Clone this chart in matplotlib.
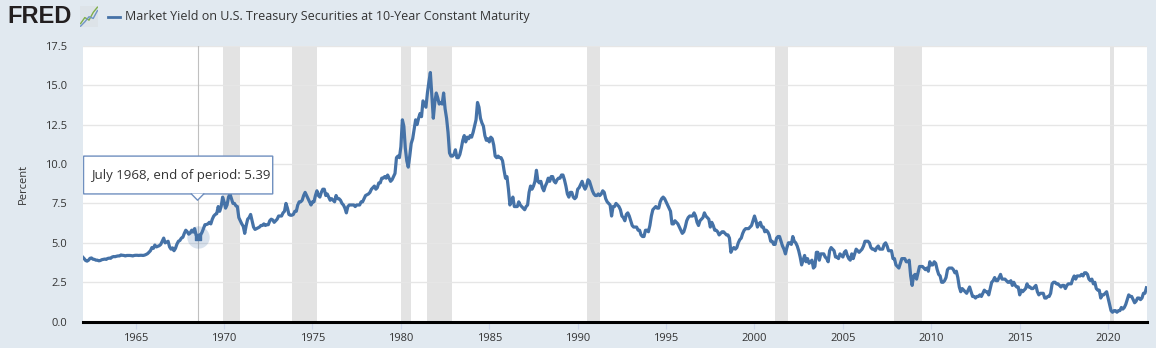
import matplotlib.pyplot as plt
import numpy as np
from matplotlib.patches import FancyBboxPatch

# monthly 10-year treasury yield (end of period), Jan 1962 .. Mar 2022
start_year = 1962
yield_pct = [
    4.10, 4.00, 3.88, 3.84, 3.90, 4.02, 4.04, 3.96, 3.95, 3.90, 3.90, 3.86,
    3.88, 3.93, 3.95, 3.97, 3.95, 4.01, 4.03, 4.02, 4.10, 4.13, 4.12, 4.15,
    4.17, 4.17, 4.23, 4.21, 4.20, 4.17, 4.20, 4.20, 4.20, 4.19, 4.17, 4.20,
    4.21, 4.21, 4.20, 4.21, 4.21, 4.20, 4.22, 4.26, 4.31, 4.40, 4.50, 4.70,
    4.65, 4.86, 4.74, 4.78, 4.82, 4.90, 5.10, 5.30, 5.00, 5.05, 5.10, 4.74,
    4.60, 4.68, 4.50, 4.65, 4.92, 5.10, 5.15, 5.30, 5.35, 5.60, 5.80, 5.70,
    5.55, 5.62, 5.80, 5.68, 5.90, 5.50, 5.39, 5.48, 5.50, 5.66, 5.90, 6.15,
    6.16, 6.20, 6.30, 6.20, 6.50, 6.70, 6.80, 6.85, 7.30, 7.00, 7.30, 7.90,
    7.60, 7.20, 7.40, 7.90, 8.10, 7.80, 7.50, 7.50, 7.35, 7.30, 6.60, 6.40,
    6.20, 6.05, 5.60, 6.10, 6.50, 6.60, 6.80, 6.40, 6.00, 5.85, 5.90, 5.95,
    6.00, 6.10, 6.10, 6.20, 6.10, 6.15, 6.15, 6.40, 6.50, 6.45, 6.30, 6.40,
    6.50, 6.70, 6.70, 6.70, 6.90, 7.00, 7.50, 7.20, 6.80, 6.75, 6.75, 6.80,
    7.00, 7.00, 7.40, 7.60, 7.60, 7.70, 8.00, 8.20, 8.00, 7.80, 7.60, 7.40,
    7.60, 7.60, 8.00, 8.30, 8.00, 7.90, 8.20, 8.40, 8.40, 8.00, 8.10, 7.90,
    7.70, 7.80, 7.70, 7.60, 8.00, 7.80, 7.80, 7.70, 7.50, 7.40, 7.20, 6.90,
    7.30, 7.40, 7.40, 7.40, 7.40, 7.30, 7.40, 7.40, 7.40, 7.60, 7.60, 7.80,
    8.00, 8.05, 8.10, 8.20, 8.40, 8.50, 8.60, 8.40, 8.50, 8.80, 8.80, 9.10,
    9.10, 9.20, 9.10, 9.30, 9.10, 8.90, 9.00, 9.20, 9.40, 10.40, 10.50, 10.40,
    11.10, 12.80, 12.40, 11.00, 10.20, 9.80, 10.50, 11.30, 11.60, 12.20, 12.80, 12.50,
    12.90, 13.20, 13.00, 14.00, 13.80, 13.60, 14.50, 15.20, 15.80, 14.40, 12.90, 13.90,
    14.50, 14.20, 13.80, 13.90, 13.80, 14.50, 13.50, 12.90, 12.00, 10.70, 10.50, 10.50,
    10.60, 10.90, 10.40, 10.40, 10.60, 11.00, 11.50, 11.80, 11.40, 11.70, 11.60, 11.80,
    11.70, 12.00, 12.40, 12.80, 13.90, 13.60, 12.90, 12.60, 12.40, 11.80, 11.50, 11.60,
    11.40, 11.70, 11.60, 11.20, 10.50, 10.40, 10.50, 10.40, 10.40, 10.20, 9.60, 9.10,
    9.20, 8.40, 7.40, 7.60, 7.90, 7.30, 7.30, 7.30, 7.60, 7.40, 7.30, 7.20,
    7.10, 7.30, 7.40, 8.20, 8.60, 8.40, 8.60, 8.90, 9.60, 8.90, 8.80, 8.90,
    8.50, 8.30, 8.60, 8.80, 9.10, 8.90, 9.20, 9.20, 8.90, 8.80, 9.00, 9.10,
    9.10, 9.30, 9.30, 9.00, 8.60, 8.10, 7.90, 8.20, 8.20, 7.90, 7.80, 7.90,
    8.40, 8.50, 8.70, 8.90, 8.60, 8.40, 8.60, 9.00, 8.90, 8.60, 8.30, 8.10,
    8.00, 8.00, 8.10, 8.00, 8.10, 8.30, 8.20, 7.80, 7.60, 7.50, 7.40, 6.70,
    7.30, 7.30, 7.50, 7.40, 7.30, 7.10, 6.70, 6.60, 6.40, 6.80, 6.90, 6.70,
    6.40, 6.10, 6.00, 6.00, 6.00, 5.80, 5.80, 5.50, 5.40, 5.40, 5.80, 5.80,
    5.70, 6.10, 6.70, 7.10, 7.20, 7.30, 7.20, 7.20, 7.60, 7.80, 7.90, 7.80,
    7.60, 7.40, 7.20, 7.00, 6.20, 6.20, 6.40, 6.30, 6.20, 6.00, 5.80, 5.60,
    5.70, 6.00, 6.40, 6.60, 6.70, 6.70, 6.70, 6.90, 6.70, 6.30, 6.10, 6.40,
    6.50, 6.60, 6.90, 6.70, 6.60, 6.50, 6.00, 6.30, 6.10, 5.80, 5.80, 5.70,
    5.50, 5.60, 5.70, 5.70, 5.60, 5.50, 5.50, 5.30, 4.40, 4.60, 4.70, 4.60,
    4.70, 5.00, 5.20, 5.30, 5.60, 5.80, 5.90, 5.90, 5.90, 6.00, 6.10, 6.40,
    6.70, 6.40, 6.00, 6.20, 6.30, 6.00, 6.00, 5.70, 5.80, 5.70, 5.50, 5.10,
    5.10, 4.90, 4.90, 5.30, 5.40, 5.40, 5.10, 4.80, 4.60, 4.30, 4.70, 5.00,
    5.00, 4.90, 5.40, 5.10, 5.00, 4.80, 4.50, 4.10, 3.60, 3.90, 4.20, 3.80,
    4.00, 3.70, 3.80, 3.90, 3.40, 3.50, 4.40, 4.40, 3.90, 4.30, 4.30, 4.30,
    4.10, 4.00, 3.80, 4.50, 4.70, 4.60, 4.50, 4.10, 4.10, 4.00, 4.30, 4.20,
    4.10, 4.40, 4.50, 4.20, 4.00, 3.90, 4.30, 4.00, 4.30, 4.60, 4.50, 4.40,
    4.50, 4.60, 4.80, 5.10, 5.10, 5.10, 5.00, 4.70, 4.60, 4.60, 4.50, 4.70,
    4.80, 4.60, 4.60, 4.60, 4.90, 5.00, 4.80, 4.50, 4.50, 4.50, 4.00, 4.00,
    3.60, 3.50, 3.40, 3.70, 4.00, 4.00, 4.00, 3.80, 3.80, 3.90, 2.90, 2.30,
    2.90, 3.00, 2.70, 3.10, 3.50, 3.50, 3.50, 3.40, 3.30, 3.40, 3.20, 3.80,
    3.60, 3.60, 3.80, 3.70, 3.30, 3.00, 2.90, 2.50, 2.50, 2.60, 2.80, 3.30,
    3.40, 3.40, 3.40, 3.30, 3.10, 3.20, 2.80, 2.20, 1.90, 2.10, 2.00, 1.90,
    1.80, 2.00, 2.20, 1.90, 1.60, 1.60, 1.50, 1.60, 1.60, 1.70, 1.60, 1.80,
    2.00, 1.90, 1.90, 1.70, 2.10, 2.50, 2.60, 2.80, 2.60, 2.60, 2.80, 3.00,
    2.70, 2.70, 2.70, 2.60, 2.50, 2.50, 2.60, 2.30, 2.50, 2.30, 2.20, 2.20,
    1.70, 2.00, 1.90, 2.00, 2.10, 2.40, 2.20, 2.20, 2.10, 2.10, 2.20, 2.30,
    1.90, 1.70, 1.80, 1.80, 1.80, 1.50, 1.50, 1.60, 1.60, 1.80, 2.40, 2.50,
    2.50, 2.40, 2.40, 2.30, 2.20, 2.30, 2.30, 2.10, 2.30, 2.40, 2.40, 2.40,
    2.70, 2.90, 2.70, 2.90, 2.90, 2.90, 3.00, 2.90, 3.10, 3.10, 3.00, 2.70,
    2.60, 2.70, 2.40, 2.50, 2.10, 2.00, 2.00, 1.50, 1.70, 1.70, 1.80, 1.90,
    1.50, 1.10, 0.70, 0.60, 0.70, 0.70, 0.60, 0.70, 0.70, 0.90, 0.80, 0.90,
    1.10, 1.40, 1.70, 1.60, 1.60, 1.40, 1.20, 1.30, 1.50, 1.50, 1.40, 1.50,
    1.80, 1.80, 2.15,
]

recessions = [(1969, 12, 1970, 11), (1973, 11, 1975, 3), (1980, 1, 1980, 7),
              (1981, 7, 1982, 11), (1990, 7, 1991, 3), (2001, 3, 2001, 11),
              (2007, 12, 2009, 6), (2020, 2, 2020, 4)]
tick_years = [1965, 1970, 1975, 1980, 1985, 1990, 1995, 2000, 2005, 2010, 2015, 2020]
y_ticks = [0.0, 2.5, 5.0, 7.5, 10.0, 12.5, 15.0, 17.5]

title = "Market Yield on U.S. Treasury Securities at 10-Year Constant Maturity"
hover_label = "July 1968, end of period:"
hover_year, hover_month = 1968, 7

bg = "#e1e9f0"
line_col = "#4572a7"

plt.rcParams['font.family'] = ['Open Sans', 'DejaVu Sans']

x = start_year + np.arange(len(yield_pct)) / 12.0
y = np.array(yield_pct)

fig = plt.figure(figsize=(11.56, 3.48), dpi=100, facecolor=bg)
ax = fig.add_axes([0.0715, 0.0756, 0.9205, 0.7931])
ax.set_facecolor("white")

for y0, m0, y1, m1 in recessions:
    ax.axvspan(y0 + (m0 - 1) / 12, y1 + m1 / 12, color="#e3e3e3", lw=0, zorder=0)

ax.plot(x, y, color=line_col, lw=2.3, zorder=3, solid_joinstyle="round")

ax.set_xlim(start_year, x[-1] + 0.02)
ax.set_ylim(0, 17.5)
ax.set_yticks(y_ticks)
ax.set_yticklabels([f"{v:.1f}" for v in y_ticks])
ax.set_xticks(tick_years)
ax.grid(axis="y", color="#e6e6e6", lw=1)
ax.set_axisbelow(True)
for s in ["top", "right", "left"]:
    ax.spines[s].set_visible(False)
ax.spines["bottom"].set_color("black")
ax.spines["bottom"].set_linewidth(2.2)
ax.spines["bottom"].set_zorder(5)
ax.tick_params(axis="y", length=0, labelsize=8, labelcolor="#333333", pad=11)
ax.tick_params(axis="x", length=5, color="#ccd6eb", labelsize=8, labelcolor="#333333", pad=3)
ax.set_ylabel("Percent", fontsize=8, color="#333333", labelpad=12)

# hover crosshair + marker + tooltip
hx = hover_year + (hover_month - 1) / 12
hy = y[(hover_year - start_year) * 12 + hover_month - 1]
ax.axvline(hx, color="#c0c0c0", lw=0.8, zorder=2)
ax.scatter([hx], [hy], s=260, color=line_col, alpha=0.2, lw=0, zorder=4)
ax.scatter([hx], [hy], s=14, color=line_col, zorder=5, marker="s")

tx0, tx1 = 1962.05, 1972.75
ty0, ty1 = 8.1, 10.5
box = FancyBboxPatch((tx0, ty0), tx1 - tx0, ty1 - ty0,
                     boxstyle="round,pad=0,rounding_size=0.05",
                     fc="white", ec="#6f8fbf", lw=1, zorder=6,
                     mutation_aspect=0.3)
ax.add_patch(box)
ax.fill([hx - 0.35, hx, hx + 0.35], [ty0 + 0.02, ty0 - 0.4, ty0 + 0.02],
        color="white", zorder=7, lw=0)
ax.plot([hx - 0.35, hx, hx + 0.35], [ty0, ty0 - 0.4, ty0], color="#6f8fbf", lw=1, zorder=7)
ax.text(tx0 + 0.45, (ty0 + ty1) / 2, f"{hover_label} {hy:.2f}", fontsize=9.5,
        color="#333333", va="center", ha="left", zorder=8)

# header: FRED logo + legend
fig.text(0.006, 0.952, "FRED", fontsize=17, fontweight="bold", color="#231f20",
         va="center", ha="left", family=["Liberation Sans", "DejaVu Sans"])
icon = fig.add_axes([0.069, 0.922, 0.016, 0.06])
icon.set_facecolor("#dde3e8")
icon.plot([0, 1, 2, 3, 4], [0.5, 1.2, 0.9, 1.8, 2.4], color="#7fae4a", lw=1)
icon.plot([0, 1, 2, 3, 4], [0.2, 0.7, 1.3, 1.1, 2.0], color="#6f95c4", lw=1)
icon.set_xticks([])
icon.set_yticks([])
for s in icon.spines.values():
    s.set_visible(False)

fig.add_artist(plt.Line2D([0.093, 0.104], [0.952, 0.952], color=line_col, lw=2,
                          transform=fig.transFigure))
fig.text(0.108, 0.952, title, fontsize=9, color="#333333", va="center", ha="left")

fig.savefig("out.png", dpi=100, facecolor=bg)
